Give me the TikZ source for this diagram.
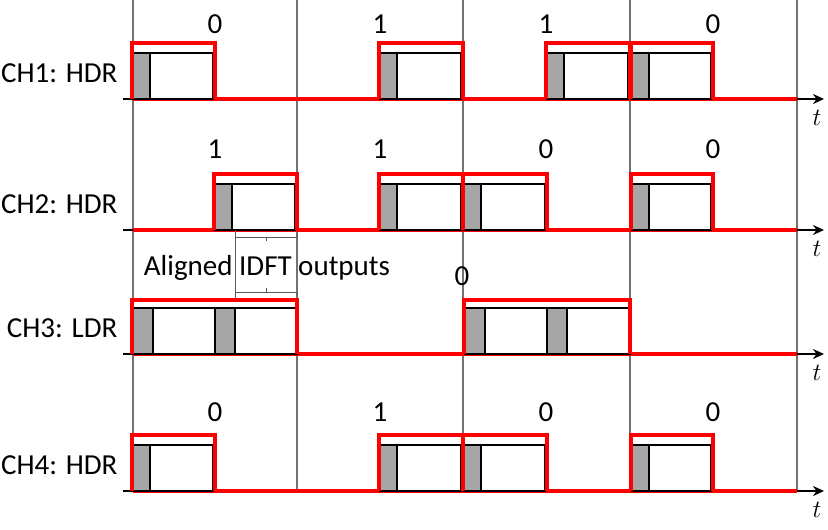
\documentclass[tikz,border=0pt]{standalone}
\usepackage{fontspec}
\setmainfont{Carlito}
\usetikzlibrary{arrows.meta}
\tikzset{
  gridln/.style={draw=black!55, line width=1.1pt},
  axisarr/.style={-{Stealth[length=11pt,width=10pt]}, line width=2.2pt},
  sigln/.style={draw=red, line width=3.4pt},
  symbox/.style={draw=black, fill=white, line width=2.2pt},
  cpbox/.style={draw=black, fill=black!35, line width=2.2pt},
  brkln/.style={draw=black!65, line width=0.9pt},
}
\begin{document}
\begin{tikzpicture}[
  x=1pt, y=-1pt,
  font=\fontsize{29}{32}\selectfont,
  tlbl/.style={font=\fontsize{31}{32}\selectfont},
]
  \useasboundingbox (0,0) rectangle (828,530);
  % slot boundaries
  \foreach \gx in {133,297,463,630,797}
    \draw[gridln] (\gx,0) -- (\gx,492);
  % time axes, channel names, idle signal
  \foreach \cy/\cn/\ct in {99/1/HDR,230/2/HDR,354/3/LDR,491/4/HDR}{
    \coordinate (ax\cn) at (123,\cy);
    \coordinate (tip\cn) at (824,\cy);
    \draw[axisarr] (ax\cn) -- (tip\cn);
    \node[anchor=east] (ch\cn) at (121,\cy-26) {CH\cn: \ct};
    \node[tlbl] (t\cn) at (817,\cy+19) {$t$};
    \draw[sigln] (133,\cy) -- (797,\cy);
  }
  % HDR symbols
  \foreach \cy/\xa/\xb in {99/133/215,99/380/463,99/547/630,99/632/713,
                           230/215/297,230/380/463,230/464/547,230/632/713,
                           491/133/215,491/380/463,491/464/547,491/632/713}{
    \draw[symbox] (\xa,\cy) rectangle (\xb-2,\cy-46);
    \draw[cpbox] (\xa,\cy) rectangle (\xa+17,\cy-46);
    \draw[sigln] (\xa-1,\cy) -- (\xa-1,\cy-56) -- (\xb,\cy-56) -- (\xb,\cy);
  }
  % LDR symbols
  \foreach \xa/\xm/\xb in {133/215/297,465/547/630}{
    \draw[symbox] (\xa,354) rectangle (\xm,308);
    \draw[symbox] (\xm,354) rectangle (\xb,308);
    \draw[cpbox] (\xa,354) rectangle (\xa+20,308);
    \draw[cpbox] (\xm,354) rectangle (\xm+20,308);
    \draw[sigln] (\xa-1,354) -- (\xa-1,300) -- (\xb,300) -- (\xb,354);
  }
  % bit values
  \foreach \bx/\ba/\bb/\bd in {215/0/1/0,380/1/1/1,546/1/0/0,713/0/0/0}{
    \node (bit1-\bx) at (\bx,24) {\ba};
    \node (bit2-\bx) at (\bx,149) {\bb};
    \node (bit4-\bx) at (\bx,412) {\bd};
  }
  \node (bit3) at (462,276) {0};
  % aligned IDFT outputs
  \draw[brkln] (235,230) -- (235,300);
  \draw[brkln] (235,234) -- (235,237) -- (297,237) -- (297,234);
  \draw[brkln] (266,237) -- (266,241);
  \draw[brkln] (235,296) -- (235,292) -- (297,292) -- (297,296);
  \draw[brkln] (266,292) -- (266,288);
  \node (idft) at (267,268) {Aligned IDFT outputs};
\end{tikzpicture}
\end{document}
